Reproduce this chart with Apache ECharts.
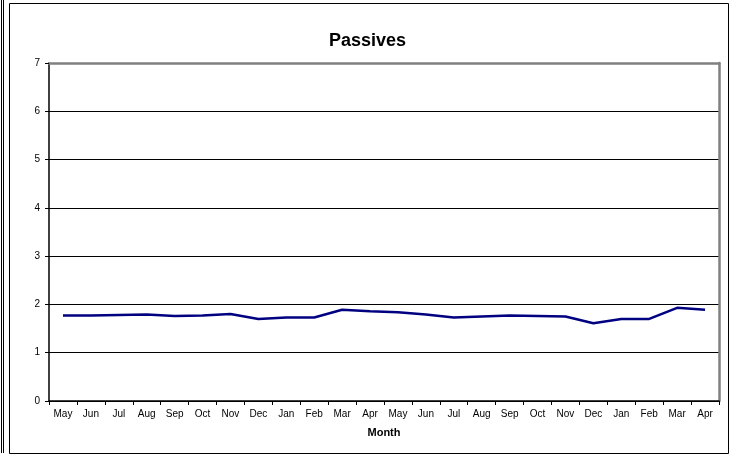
<!DOCTYPE html>
<html>
<head>
<meta charset="utf-8">
<script src="https://cdn.jsdelivr.net/npm/echarts@6/dist/echarts.min.js"></script>
<style>
  html, body { margin: 0; padding: 0; background: #fff; }
  #chart { width: 735px; height: 455px; }
</style>
</head>
<body>
<div id="chart"></div>
<script>
// data
var months = ['May', 'Jun', 'Jul', 'Aug', 'Sep', 'Oct', 'Nov', 'Dec', 'Jan', 'Feb', 'Mar', 'Apr',
              'May', 'Jun', 'Jul', 'Aug', 'Sep', 'Oct', 'Nov', 'Dec', 'Jan', 'Feb', 'Mar', 'Apr'];
var passives = [1.77, 1.77, 1.78, 1.79, 1.76, 1.77, 1.80, 1.70, 1.73, 1.73, 1.89, 1.86,
                1.84, 1.79, 1.73, 1.75, 1.77, 1.76, 1.75, 1.61, 1.70, 1.70, 1.93, 1.89];
var yMin = 0, yMax = 7, yStep = 1;

var font = 'Arial, "Liberation Sans", sans-serif';
var chart = echarts.init(document.getElementById('chart'));

// plain gray edge for the top and right sides of the plot area
var grayEdge = {
    show: true,
    axisLine: { show: true, onZero: false, lineStyle: { color: '#808080', width: 2.5 } },
    axisTick: { show: false },
    axisLabel: { show: false },
    splitLine: { show: false }
};

var option = {
    animation: false,
    backgroundColor: '#fff',
    title: {
        text: 'Passives',
        left: 'center',
        top: 27,
        textStyle: { fontFamily: font, fontSize: 18, fontWeight: 'bold', color: '#000' }
    },
    graphic: [
        // frame round the chart and the edge of the neighbouring one
        { type: 'rect', shape: { x: 9.5, y: 3.5, width: 719, height: 450 },
          style: { fill: null, stroke: '#000', lineWidth: 1 }, silent: true },
        { type: 'line', shape: { x1: 1.5, y1: 0, x2: 1.5, y2: 453 }, style: { stroke: '#000', lineWidth: 1 } },
        { type: 'line', shape: { x1: 3.5, y1: 0, x2: 3.5, y2: 453 }, style: { stroke: '#000', lineWidth: 1 } }
    ],
    grid: {
        left: 49, right: 16, top: 63, bottom: 54,
        show: false
    },
    xAxis: [{
        type: 'category',
        data: months,
        boundaryGap: true,
        name: 'Month',
        nameLocation: 'middle',
        nameGap: 26,
        nameTextStyle: { fontFamily: font, fontSize: 11, fontWeight: 'bold', color: '#000' },
        axisLine: { lineStyle: { color: '#000', width: 1.5 } },
        axisTick: { show: true, alignWithLabel: false, length: 4, lineStyle: { color: '#000' } },
        axisLabel: { fontFamily: font, fontSize: 10, color: '#000', margin: 8, interval: 0 },
        splitLine: { show: false }
    }, Object.assign({ type: 'category', data: months, position: 'top' }, grayEdge)],
    yAxis: [{
        type: 'value',
        min: yMin,
        max: yMax,
        interval: yStep,
        axisLine: { show: true, lineStyle: { color: '#000', width: 1.5 } },
        axisTick: { show: true, length: 4, lineStyle: { color: '#000' } },
        axisLabel: { fontFamily: font, fontSize: 10, color: '#000', margin: 9 },
        splitLine: {
            show: true,
            lineStyle: { color: ['#000', '#000', '#000', '#000', '#000', '#000', '#000', '#808080'], width: 1 }
        }
    }, Object.assign({ type: 'value', min: yMin, max: yMax, interval: yStep, position: 'right' }, grayEdge)],
    series: [{
        name: 'Passives',
        type: 'line',
        data: passives,
        symbol: 'none',
        lineStyle: { color: '#000080', width: 2.5 },
        itemStyle: { color: '#000080' }
    }]
};

chart.setOption(option);
</script>
</body>
</html>
